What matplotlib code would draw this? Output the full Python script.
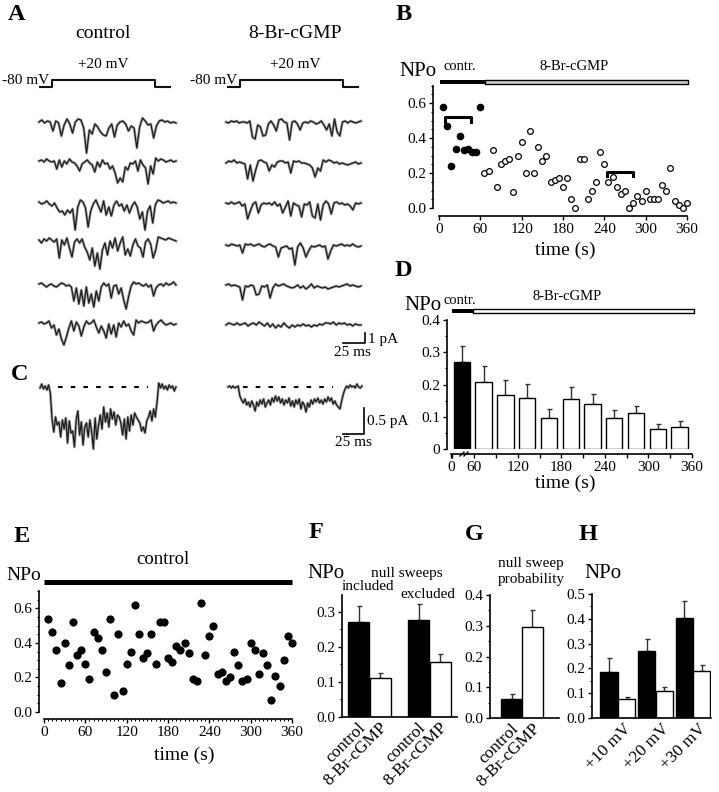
import numpy as np
import matplotlib
matplotlib.use('Agg')
import matplotlib.pyplot as plt
from matplotlib.ticker import MultipleLocator
from matplotlib.transforms import ScaledTranslation

plt.rcParams['font.family'] = ['Liberation Serif', 'DejaVu Serif']

# panel B
b_ctrl_t = [6, 12, 18, 24, 30, 36, 42, 48, 54, 60]
b_ctrl = [.58, .47, .24, .34, .41, .33, .34, .32, .32, .58]
b_drug_t = list(range(66, 361, 6))
b_drug = [.20, .21, .33, .12, .25, .27, .28, .09, .30, .38, .20, .44, .20, .35, .27, .30, .15, .16, .17, .12,
          .17, .05, .00, .28, .28, .05, .10, .15, .32, .25, .15, .18, .12, .08, .10, .00, .03, .07, .04, .10,
          .05, .05, .05, .13, .10, .23, .04, .02, .00, .03]

# panel D
d_t = [43, 73, 103, 133, 163, 193, 223, 253, 283, 313, 343]
d_val = [.27, .208, .168, .157, .097, .155, .138, .097, .112, .063, .067]
d_top = [.32, .258, .213, .203, .123, .191, .169, .12, .132, .079, .088]

# panel E
e_t = list(range(6, 361, 6))
e_val = [.54, .46, .36, .17, .40, .27, .52, .33, .36, .28, .19, .46, .43, .36, .23, .54, .10, .45, .12, .28,
         .35, .62, .45, .31, .34, .45, .28, .52, .52, .31, .29, .38, .36, .40, .34, .19, .18, .63, .33, .44,
         .50, .22, .23, .18, .20, .35, .27, .18, .19, .40, .36, .22, .34, .27, .07, .21, .15, .30, .44, .40]

# panels F, G, H
f_val = [.27, .11, .277, .157]
f_top = [.317, .126, .32, .18]
f_labels = ['control', '8-Br-cGMP', 'control', '8-Br-cGMP']
g_val = [.063, .296]
g_top = [.078, .35]
g_labels = ['control', '8-Br-cGMP']
h_val = [.185, .075, .27, .11, .405, .19]
h_top = [.243, .085, .318, .125, .47, .213]
h_labels = ['+10 mV', '+20 mV', '+30 mV']

# current traces, read as downward deflection in px
a_ctrl = [
    [0,-2,1,-1,0,9,-1,1,14,3,-3,2,11,0,-3,-2,6,31,8,12,2,5,10,13,14,6,2,15,3,0,-1,2,9,4,6,26,5,-4,-1,3,2,16,4,-1,-2,0,-1,1,0,1],
    [0,-1,1,-2,0,1,0,8,-1,6,0,3,-2,1,2,5,10,3,1,-1,2,4,11,1,6,-1,3,2,8,5,12,22,17,21,6,9,2,3,0,10,-1,4,7,23,5,13,-3,0,-2,-1,1,0,-1,1,0],
    [-1,1,0,-2,1,3,0,5,9,8,12,7,10,6,27,4,-3,-1,5,24,8,1,-3,3,9,-2,12,4,13,2,-2,3,1,8,2,10,3,-1,4,16,9,27,8,3,20,2,-3,-2,0,-1,-2,0,-1,0],
    [0,3,-1,1,-2,0,2,-1,18,0,5,-2,8,17,2,-1,3,-1,7,12,20,8,26,13,29,10,3,15,1,8,-2,11,3,-3,15,9,16,5,-1,6,8,17,2,-1,4,18,10,-3,-2,-1,0,-2,-1,0,1],
    [0,-1,1,3,1,0,2,3,1,-1,0,2,1,3,17,4,20,6,22,3,19,10,23,7,17,3,-1,2,0,14,2,1,10,4,16,25,12,2,-2,0,-1,1,2,0,3,1,12,4,1,0,2,-1,1,0,-2,1],
    [0,-1,1,0,-2,5,2,12,6,16,22,14,5,-2,8,-1,3,13,4,-2,1,0,-3,4,10,3,8,15,1,11,2,14,0,4,-2,3,1,8,12,-3,0,-2,-1,0,-1,-3,8,2,-1,-3,0,2,1,0,2,1],
]
a_drug = [
    [0,1,-1,0,-1,1,0,0,1,-1,15,17,3,5,14,13,2,-1,3,9,-2,-3,0,1,18,0,-1,2,8,1,0,1,-1,0,2,1,-1,3,8,2,14,-3,10,14,0,-1,1,-1,0,1,0,-1],
    [1,-1,0,-2,1,0,1,2,17,3,19,8,-1,-2,0,1,9,3,5,0,-1,-1,1,0,11,-1,0,-1,1,1,2,3,6,15,6,9,-2,0,-2,-1,1,0,2,1,2,3,2,1,0,2,1],
    [0,1,-1,1,0,-1,3,1,16,8,1,-1,10,2,0,1,0,2,-1,3,1,10,4,-2,13,0,2,3,14,1,2,-1,13,15,1,17,2,-2,1,11,0,-1,1,0,2,1,3,7,0,1,0],
    [0,1,-1,0,1,0,8,-1,0,-1,1,0,-1,1,2,0,-1,1,2,12,3,2,1,4,3,20,2,-2,3,12,6,1,2,1,0,2,1,14,6,0,1,0,-1,1,0,1,-1,1,2,1],
    [0,-1,1,0,1,2,15,1,2,0,1,10,9,1,2,0,13,3,-1,1,0,-1,1,2,3,2,0,3,1,4,2,-1,3,1,2,3,2,4,3,2,1,2,1,0,-1,1,0,1,2,1],
    [1,-1,0,1,-1,1,0,-1,2,0,-1,1,-2,0,2,-1,3,0,4,1,3,-1,2,4,1,3,1,2,0,2,1,3,1,2,0,1,-1,-1,0,-2,1,-1,0,-1,1,0,2,0,1,1],
]
c_ctrl = [1,-3,2,-1,3,-2,6,32,45,30,38,35,50,33,42,31,56,34,46,44,60,33,24,48,35,58,40,36,50,33,45,62,31,52,38,28,42,20,35,26,
          40,22,32,25,38,28,30,36,48,32,52,30,44,28,38,26,30,33,36,44,40,46,34,30,24,34,22,30,15,-4,1,-3,2,-1,3,-2,1,-1,4,0]
c_drug = [0,-1,1,-1,1,0,-1,9,13,16,12,18,15,20,14,18,24,15,19,13,17,12,20,16,13,18,11,15,9,14,10,16,12,18,13,16,11,19,14,20,
          13,17,12,22,15,18,25,16,20,13,17,12,15,11,16,13,17,12,15,10,14,11,17,14,18,20,22,14,7,2,-1,1,-2,0,-1,1,-3,0,1,-1]

W, H = 719, 792
fig = plt.figure(figsize=(W / 100, H / 100), dpi=100)

# whole-figure axes in pixels, used for traces, labels and drug bars
ov = fig.add_axes([0, 0, 1, 1])
ov.set_xlim(0, W)
ov.set_ylim(H, 0)
ov.axis('off')


def label(x, y, s, size=11, **kw):
    kw.setdefault('ha', 'center')
    ov.text(x, y, s, fontsize=size, va='center', **kw)


def panel_axes(x0, x1, ytop, ybot, xlim, ylim, minor=.05, left=0, bottom=0):
    ax = fig.add_axes([x0 / W, 1 - ybot / H, (x1 - x0) / W, (ybot - ytop) / H])
    ax.patch.set_alpha(0)
    ax.set_xlim(*xlim)
    ax.set_ylim(*ylim)
    for s in ['top', 'right']:
        ax.spines[s].set_visible(False)
    ax.spines['left'].set_position(('outward', left * .72))
    ax.spines['bottom'].set_position(('outward', bottom * .72))
    ax.spines['left'].set_linewidth(1.2)
    ax.spines['bottom'].set_linewidth(1.2)
    ax.yaxis.set_minor_locator(MultipleLocator(minor))
    ax.tick_params(axis='both', which='major', labelsize=11, length=3, width=1, pad=2)
    ax.tick_params(axis='both', which='minor', length=1.5, width=.8)
    return ax


def drug_bar(x0, xm, x1, y, h, fill):
    ov.fill_between([xm, x1], y - h / 2, y + h / 2, facecolor=fill, edgecolor='black', lw=1)
    ov.fill_between([x0, xm], y - h / 2 - .5, y + h / 2 + .5, color='black', lw=0)


def trace(vals, x0, x1, y0, lw=.9):
    xs = np.linspace(x0, x1, len(vals))
    ys = y0 + np.array(vals)
    # blurred grey band under the dark line, as in the scanned sweeps
    ov.plot(xs, ys, color='#a8a8a8', lw=lw + 1.1)
    ov.plot(xs, ys, color='#1c1c1c', lw=lw)


def bars(ax, x, val, top, width, colors):
    ax.errorbar(x, val, yerr=[np.zeros(len(val)), np.array(top) - np.array(val)], fmt='none',
                ecolor='#333333', elinewidth=1, capsize=1.8, capthick=1, zorder=1)
    ax.bar(x, val, width, color=colors, edgecolor='black', linewidth=1, zorder=2)


def slanted(ax, ticks, labels, dx=5):
    ax.set_xticks(ticks)
    ax.set_xticklabels(labels, rotation=45, ha='right', va='center', rotation_mode='anchor', fontsize=12.5)
    ax.tick_params(axis='x', which='major', length=0, pad=6)
    off = ScaledTranslation(dx / 100, 0, fig.dpi_scale_trans)
    for t in ax.get_xticklabels():
        t.set_transform(t.get_transform() + off)


# panel letters
for x, y, s in [(17, 15, 'A'), (404, 14, 'B'), (20, 374, 'C'), (403, 270, 'D'),
                (22, 536, 'E'), (316, 533, 'F'), (474, 534, 'G'), (588, 534, 'H')]:
    label(x, y, s, size=17.5, fontweight='bold')

# A: voltage steps and sweeps
label(103, 33, 'control', 14)
label(295, 34, '8-Br-cGMP', 14)
for x0, xc in [(40, 103), (228, 295)]:
    label(xc, 65, '+20 mV')
    label(x0 - 14, 80, '-80 mV')
    ov.plot([x0, x0 + 12, x0 + 12, x0 + 115, x0 + 115, x0 + 130], [87, 87, 80, 80, 87, 87], color='#111111', lw=1.5)
for vals, y0 in zip(a_ctrl, [122, 161, 203, 240, 284, 323]):
    trace(vals, 39, 176, y0)
for vals, y0 in zip(a_drug, [122, 162, 203, 245, 285, 324]):
    trace(vals, 226, 361, y0)
ov.plot([343, 365, 365], [343, 343, 333], color='black', lw=1.2)
label(368, 340, '1 pA', ha='left')
label(352, 352, '25 ms')

# C: averaged sweeps
trace(c_ctrl, 40, 176, 387)
trace(c_drug, 228, 362, 387)
ov.plot([58, 148], [387, 387], color='black', lw=1.5, ls=(0, (2.2, 3.9)))
ov.plot([243, 333], [387, 387], color='black', lw=1.5, ls=(0, (2.2, 3.9)))
ov.plot([343, 364, 364], [434, 434, 408], color='black', lw=1.2)
label(367, 421, '0.5 pA', ha='left')
label(353, 443, '25 ms')

# B
ax = panel_axes(439, 687, 85.5, 208, (0, 360), (0, .7), left=6, bottom=8)
ax.scatter(b_ctrl_t, b_ctrl, s=20, color='black', clip_on=False, zorder=3)
ax.scatter(b_drug_t, b_drug, s=17, facecolor='white', edgecolor='black', linewidth=.9, clip_on=False, zorder=3)
ax.set_xticks(range(0, 361, 60))
ax.set_yticks([0, .2, .4, .6])
ax.set_yticklabels(['0.0', '0.2', '0.4', '0.6'])
label(418, 72, 'NPo', 15)
label(460, 66, 'contr.', 10.5)
label(574, 66, '8-Br-cGMP', 10.5)
drug_bar(440, 485, 688, 82, 3.5, '#cfcfcf')
label(565, 250, 'time (s)', 14)
ov.plot([445, 445, 471, 471], [122, 117, 117, 122], color='black', lw=2.2)
ov.plot([607, 607, 633, 633], [176, 172, 172, 176], color='black', lw=2.2)

# D
ax = panel_axes(451, 692, 320, 449, (28, 360), (0, .4), left=4, bottom=5)
bars(ax, d_t, d_val, d_top, 22.5, ['black'] + ['white'] * 10)
ax.set_xticks([28] + list(range(60, 361, 60)))
ax.set_xticklabels(['0', '60', '120', '180', '240', '300', '360'])
ax.xaxis.set_minor_locator(MultipleLocator(30))
ax.tick_params(axis='x', which='minor', length=3, width=1)
ax.set_yticks([0, .1, .2, .3, .4])
ax.set_yticklabels(['0', '0.1', '0.2', '0.3', '0.4'])
label(423, 305, 'NPo', 15)
label(460, 300, 'contr.', 10.5)
label(567, 297, '8-Br-cGMP', 10.5)
drug_bar(452, 473, 694, 311, 3.5, 'white')
label(565, 483, 'time (s)', 14)
ov.plot([460, 464], [456, 452], color='black', lw=1, zorder=5)
ov.plot([464, 468], [456, 452], color='black', lw=1, zorder=5)

# E
ax = panel_axes(44, 292, 591, 712, (0, 360), (0, .7), left=5, bottom=7)
ax.scatter(e_t, e_val, s=24, color='black', clip_on=False, zorder=3)
ax.set_xticks(range(0, 361, 60))
ax.xaxis.set_minor_locator(MultipleLocator(6))
ax.set_yticks([0, .2, .4, .6])
ax.set_yticklabels(['0.0', '0.2', '0.4', '0.6'])
label(24, 575, 'NPo', 14)
label(163, 560, 'control', 13.5)
ov.plot([44, 292], [582, 582], color='black', lw=3.6, solid_capstyle='butt')
label(184, 755, 'time (s)', 14)

# F
ax = panel_axes(342, 457, 595, 717, (-.77, 4.54), (0, .347), left=0)
f_x = [0, 1, 2.77, 3.77]
bars(ax, f_x, f_val, f_top, .98, ['black', 'white', 'black', 'white'])
ax.set_yticks([0, .1, .2, .3])
ax.set_yticklabels(['0.0', '0.1', '0.2', '0.3'])
slanted(ax, f_x, f_labels)
label(326, 574, 'NPo', 15)
label(407, 574, 'null sweeps')
label(368, 587, 'included')
label(428, 594, 'excluded')

# G
ax = panel_axes(490, 559, 595, 718, (-1.03, 2.27), (0, .4), left=0)
g_x = [0, 1]
bars(ax, g_x, g_val, g_top, .98, ['black', 'white'])
ax.set_yticks([0, .1, .2, .3, .4])
ax.set_yticklabels(['0.0', '0.1', '0.2', '0.3', '0.4'])
slanted(ax, g_x, g_labels)
label(531, 563, 'null sweep')
label(531, 579, 'probability')

# H
ax = panel_axes(592, 711, 594, 718, (-.96, 5.77), (0, .5), left=0)
h_x = [0, 1, 2.13, 3.13, 4.25, 5.25]
bars(ax, h_x, h_val, h_top, .97, ['black', 'white'] * 3)
ax.set_yticks([0, .1, .2, .3, .4, .5])
ax.set_yticklabels(['0.0', '0.1', '0.2', '0.3', '0.4', '0.5'])
slanted(ax, [.5, 2.63, 4.75], h_labels, dx=11)
label(603, 574, 'NPo', 15)

fig.savefig('out.png', dpi=100)
